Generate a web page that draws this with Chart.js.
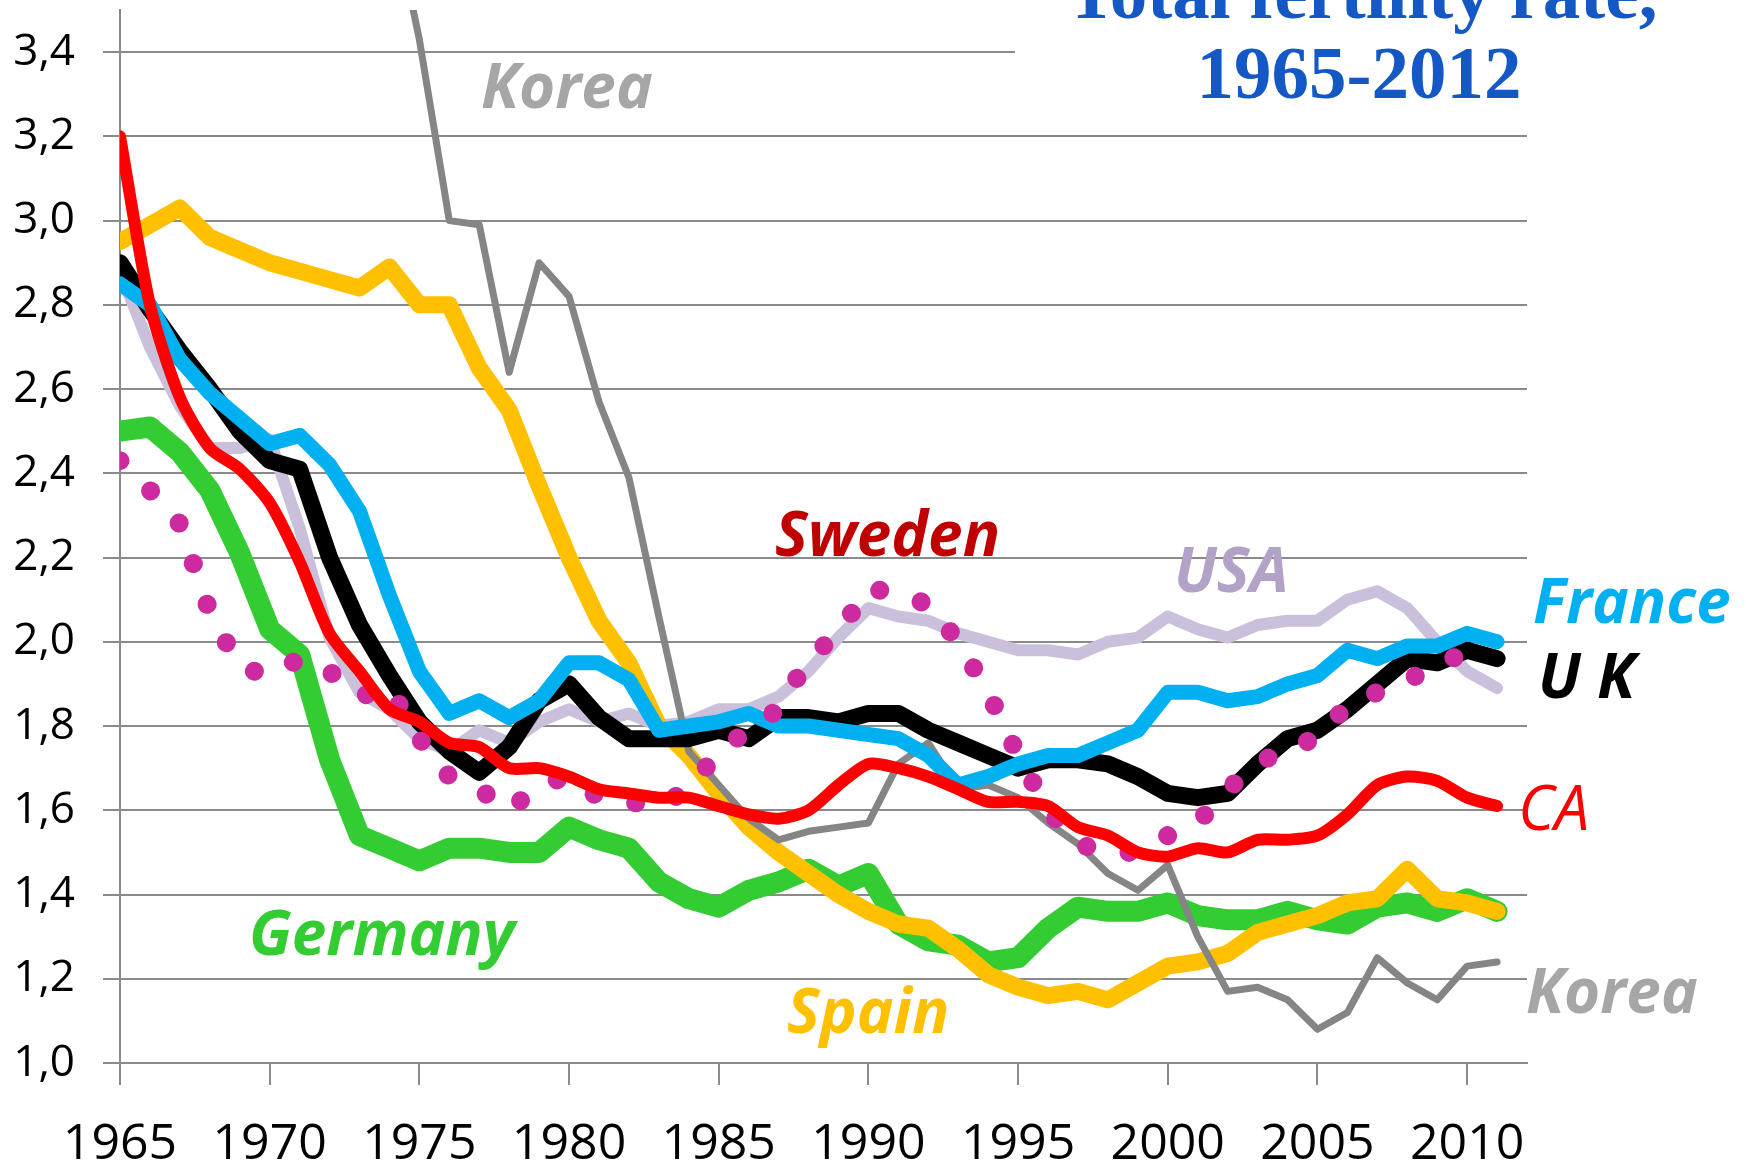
<!DOCTYPE html>
<html>
<head>
<meta charset="utf-8">
<script src="https://cdn.jsdelivr.net/npm/chart.js@4.4.1/dist/chart.umd.min.js"></script>
<style>
  html, body { margin: 0; padding: 0; background: #fff; }
  #wrap { width: 1746px; height: 1164px; position: relative; }
</style>
</head>
<body>
<div id="wrap"><canvas id="graph"></canvas></div>
<script>
var years = [1965, 1966, 1967, 1968, 1969, 1970, 1971, 1972, 1973, 1974,
             1975, 1976, 1977, 1978, 1979, 1980, 1981, 1982, 1983, 1984,
             1985, 1986, 1987, 1988, 1989, 1990, 1991, 1992, 1993, 1994,
             1995, 1996, 1997, 1998, 1999, 2000, 2001, 2002, 2003, 2004,
             2005, 2006, 2007, 2008, 2009, 2010, 2011];
var xTickYears = [1965, 1970, 1975, 1980, 1985, 1990, 1995, 2000, 2005, 2010];
var yTickValues = [1.0, 1.2, 1.4, 1.6, 1.8, 2.0, 2.2, 2.4, 2.6, 2.8, 3.0, 3.2, 3.4];

var ukValues = [2.90, 2.79, 2.69, 2.60, 2.50, 2.43, 2.41, 2.20, 2.04, 1.92,
                1.81, 1.74, 1.69, 1.75, 1.86, 1.90, 1.82, 1.77, 1.77, 1.77,
                1.79, 1.77, 1.82, 1.82, 1.81, 1.83, 1.83, 1.79, 1.76, 1.73,
                1.70, 1.72, 1.72, 1.71, 1.68, 1.64, 1.63, 1.64, 1.71, 1.77,
                1.79, 1.84, 1.90, 1.96, 1.95, 1.98, 1.96];
var franceValues = [2.85, 2.80, 2.67, 2.59, 2.53, 2.47, 2.49, 2.42, 2.31, 2.11,
                    1.93, 1.83, 1.86, 1.82, 1.86, 1.95, 1.95, 1.91, 1.79, 1.80,
                    1.81, 1.83, 1.80, 1.80, 1.79, 1.78, 1.77, 1.73, 1.66, 1.68,
                    1.71, 1.73, 1.73, 1.76, 1.79, 1.88, 1.88, 1.86, 1.87, 1.90,
                    1.92, 1.98, 1.96, 1.99, 1.99, 2.02, 2.00];
var usaValues = [2.88, 2.70, 2.56, 2.46, 2.46, 2.48, 2.27, 2.01, 1.88, 1.84,
                 1.77, 1.74, 1.79, 1.76, 1.81, 1.84, 1.81, 1.83, 1.80, 1.81,
                 1.84, 1.84, 1.87, 1.93, 2.01, 2.08, 2.06, 2.05, 2.02, 2.00,
                 1.98, 1.98, 1.97, 2.00, 2.01, 2.06, 2.03, 2.01, 2.04, 2.05,
                 2.05, 2.10, 2.12, 2.08, 2.00, 1.93, 1.89];
var swedenValues = [2.43, 2.36, 2.28, 2.07, 1.94, 1.92, 1.96, 1.93, 1.87, 1.89,
                    1.77, 1.68, 1.65, 1.60, 1.66, 1.68, 1.63, 1.62, 1.61, 1.65,
                    1.74, 1.79, 1.84, 1.96, 2.02, 2.13, 2.11, 2.09, 2.00, 1.88,
                    1.73, 1.60, 1.52, 1.50, 1.50, 1.54, 1.57, 1.65, 1.71, 1.75,
                    1.77, 1.85, 1.88, 1.91, 1.94, 1.98, null];
var canadaValues = [3.20, 2.80, 2.58, 2.46, 2.41, 2.33, 2.19, 2.02, 1.93, 1.84,
                    1.81, 1.76, 1.75, 1.70, 1.70, 1.68, 1.65, 1.64, 1.63, 1.63,
                    1.61, 1.59, 1.58, 1.60, 1.66, 1.71, 1.70, 1.68, 1.65, 1.62,
                    1.62, 1.61, 1.56, 1.54, 1.50, 1.49, 1.51, 1.50, 1.53, 1.53,
                    1.54, 1.59, 1.66, 1.68, 1.67, 1.63, 1.61];
var germanyValues = [2.50, 2.51, 2.45, 2.36, 2.21, 2.03, 1.97, 1.72, 1.54, 1.51,
                     1.48, 1.51, 1.51, 1.50, 1.50, 1.56, 1.53, 1.51, 1.43, 1.39,
                     1.37, 1.41, 1.43, 1.46, 1.42, 1.45, 1.33, 1.29, 1.28, 1.24,
                     1.25, 1.32, 1.37, 1.36, 1.36, 1.38, 1.35, 1.34, 1.34, 1.36,
                     1.34, 1.33, 1.37, 1.38, 1.36, 1.39, 1.36];
var spainValues = [2.95, 2.99, 3.03, 2.96, 2.93, 2.90, 2.88, 2.86, 2.84, 2.89,
                   2.80, 2.80, 2.65, 2.55, 2.37, 2.20, 2.05, 1.95, 1.80, 1.73,
                   1.64, 1.56, 1.50, 1.45, 1.40, 1.36, 1.33, 1.32, 1.27, 1.21,
                   1.18, 1.16, 1.17, 1.15, 1.19, 1.23, 1.24, 1.26, 1.31, 1.33,
                   1.35, 1.38, 1.39, 1.46, 1.39, 1.38, 1.36];
var koreaValues = [null, null, null, null, null, 4.53, 4.54, 4.12, 4.07, 3.77,
                   3.43, 3.00, 2.99, 2.64, 2.90, 2.82, 2.57, 2.39, 2.06, 1.74,
                   1.66, 1.58, 1.53, 1.55, 1.56, 1.57, 1.71, 1.76, 1.65, 1.66,
                   1.63, 1.57, 1.52, 1.45, 1.41, 1.47, 1.30, 1.17, 1.18, 1.15,
                   1.08, 1.12, 1.25, 1.19, 1.15, 1.23, 1.24];

function toPoints(values) {
  var pts = [];
  for (var i = 0; i < years.length; i++) {
    pts.push({x: years[i], y: values[i]});
  }
  return pts;
}

function lineSet(name, values, color, width, order) {
  return {
    label: name,
    data: toPoints(values),
    borderColor: color,
    borderWidth: width,
    pointRadius: 0,
    borderJoinStyle: 'round',
    borderCapStyle: 'round',
    tension: 0,
    order: order
  };
}

var gridGray = '#8a8a8a';

// text placed on the chart: title and the series names
var chartText = {
  id: 'chartText',
  afterDraw: function(chart) {
    var ctx = chart.ctx;
    var yTop = chart.scales.y.getPixelForValue(3.4);
    ctx.save();

    // title box hides the right part of the top gridline
    ctx.fillStyle = '#fff';
    ctx.fillRect(1015, yTop - 6, 540, 12);

    ctx.fillStyle = '#1458c6';
    ctx.font = 'bold 75px "Liberation Serif"';
    ctx.textAlign = 'center';
    ctx.textBaseline = 'alphabetic';
    ctx.fillText('Total fertility rate,', 1362, 18);
    ctx.fillText('1965-2012', 1359, 98);

    ctx.textAlign = 'left';
    var names = [
      ['Korea', 481, 108, '#a6a6a6', 'bold'],
      ['Sweden', 775, 556, '#c00000', 'bold'],
      ['USA', 1174, 592, '#b3a2c7', 'bold'],
      ['France', 1533, 623, '#00b0f0', 'bold'],
      ['U K', 1538, 698, '#000000', 'bold'],
      ['CA', 1518, 830, '#ff0000', 'normal'],
      ['Korea', 1526, 1013, '#a6a6a6', 'bold'],
      ['Germany', 249, 955, '#33cc33', 'bold'],
      ['Spain', 787, 1033, '#ffc000', 'bold']
    ];
    for (var i = 0; i < names.length; i++) {
      var n = names[i];
      ctx.fillStyle = n[3];
      ctx.font = 'italic ' + n[4] + ' 62px "Open Sans"';
      ctx.fillText(n[0], n[1], n[2]);
    }
    ctx.restore();
  }
};

var swedenSet = lineSet('Sweden', swedenValues, '#cc2a9e', 19, 2);
swedenSet.borderDash = [0.01, 43];
var canadaSet = lineSet('CA', canadaValues, '#ff0000', 12, 1);
canadaSet.tension = 0.25;

var ctx = document.getElementById('graph');
new Chart(ctx, {
  type: 'line',
  data: {
    datasets: [
      canadaSet,
      swedenSet,
      lineSet('France', franceValues, '#00b0f0', 15, 3),
      lineSet('UK', ukValues, '#000000', 17, 4),
      lineSet('Korea', koreaValues, '#858585', 7, 5),
      lineSet('Spain', spainValues, '#ffc000', 17, 6),
      lineSet('Germany', germanyValues, '#33cc33', 21, 7),
      lineSet('USA', usaValues, '#cbc0dc', 12, 8)
    ]
  },
  options: {
    responsive: true,
    maintainAspectRatio: false,
    animation: false,
    devicePixelRatio: 1,
    layout: { padding: { top: 10, right: 219, left: 0, bottom: 0 } },
    plugins: {
      legend: { display: false },
      tooltip: { enabled: false }
    },
    scales: {
      x: {
        type: 'linear',
        min: 1965,
        max: 2012,
        afterBuildTicks: function(scale) {
          scale.ticks = xTickYears.map(function(v) { return {value: v}; });
        },
        afterFit: function(scale) {
          scale.height = 101;
          scale.paddingLeft = 0;
          scale.paddingRight = 0;
        },
        grid: {
          drawOnChartArea: false,
          drawTicks: true,
          tickLength: 22,
          color: gridGray,
          lineWidth: 2
        },
        border: { display: true, color: gridGray, width: 2 },
        ticks: {
          autoSkip: false,
          maxRotation: 0,
          padding: 30,
          color: '#000',
          font: { family: '"Open Sans"', size: 50 },
          callback: function(v) { return String(v); }
        }
      },
      y: {
        min: 1.0,
        max: 3.5,
        afterBuildTicks: function(scale) {
          scale.ticks = yTickValues.map(function(v) { return {value: v}; });
        },
        afterFit: function(scale) {
          scale.width = 120;
          scale.paddingTop = 0;
          scale.paddingBottom = 0;
        },
        grid: {
          drawTicks: true,
          tickLength: 17,
          color: gridGray,
          lineWidth: 2
        },
        border: { display: true, color: gridGray, width: 2 },
        ticks: {
          padding: 28,
          color: '#000',
          font: { family: '"Open Sans"', size: 44 },
          callback: function(v) { return v.toFixed(1).replace('.', ','); }
        }
      }
    }
  },
  plugins: [chartText]
});
</script>
</body>
</html>
